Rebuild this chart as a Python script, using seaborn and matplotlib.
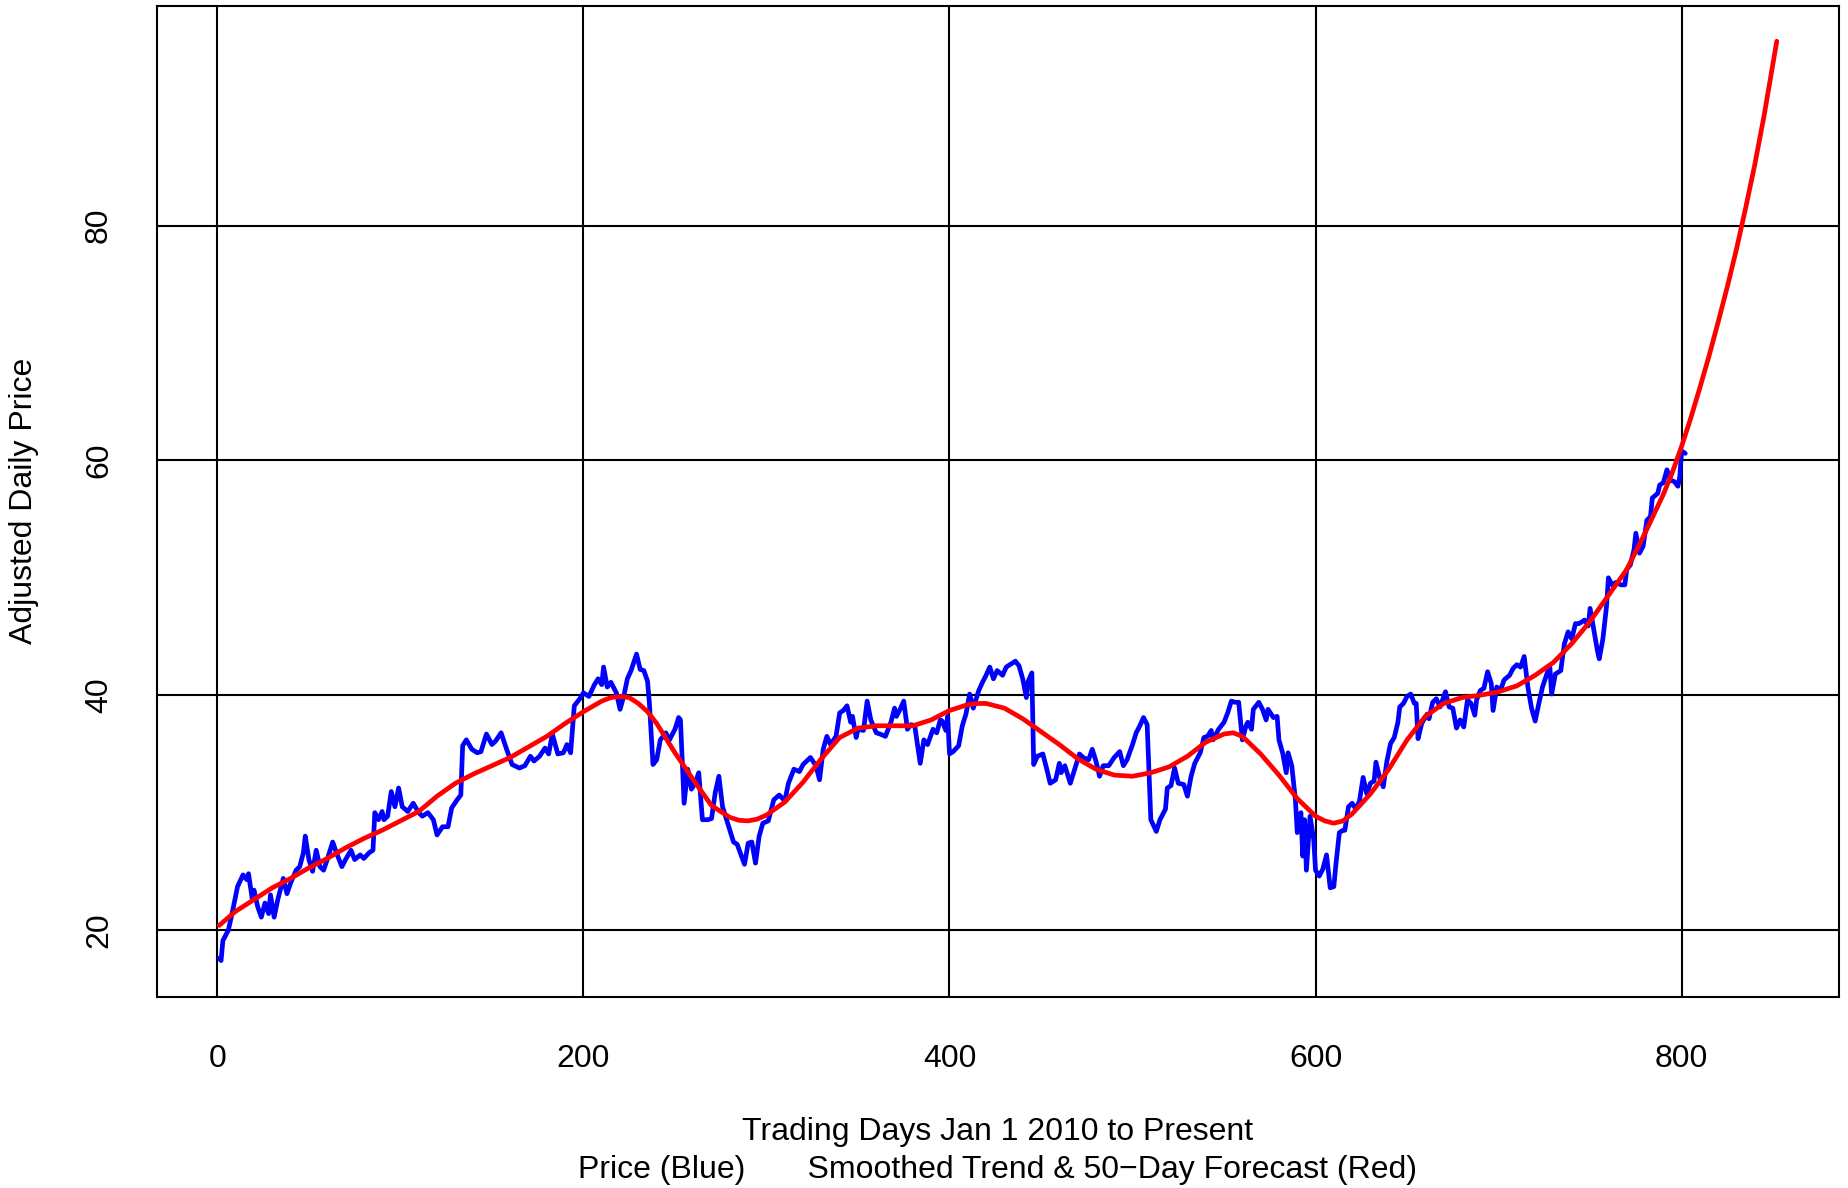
import numpy as np
import pandas as pd
import matplotlib
matplotlib.use("Agg")
import matplotlib.pyplot as plt
import seaborn as sns

# ---- Data ----
price_days = [1, 2, 3, 6, 8, 11, 14, 16, 17, 19, 20, 22, 24, 26, 28, 29, 31, 33, 36, 38,
              40, 43, 45, 47, 48, 50, 52, 54, 56, 58, 60, 63, 65, 68, 70, 73, 75, 78, 80, 83,
              85, 86, 88, 90, 91, 93, 95, 97, 99, 101, 104, 107, 110, 112, 115, 118, 120, 123, 126, 128,
              131, 133, 134, 136, 139, 142, 144, 147, 150, 152, 155, 158, 161, 165, 168, 171, 173, 176, 179, 181,
              183, 186, 189, 191, 193, 195, 198, 200, 203, 206, 208, 210, 211, 213, 215, 218, 220, 222, 224, 226,
              229, 231, 233, 235, 236, 238, 240, 242, 245, 247, 250, 252, 253, 255, 257, 259, 261, 263, 265, 268,
              270, 272, 274, 276, 279, 282, 284, 288, 290, 292, 294, 296, 298, 301, 304, 307, 310, 312, 315, 318,
              320, 324, 327, 329, 331, 333, 335, 338, 340, 342, 344, 346, 347, 349, 350, 353, 355, 357, 360, 362,
              365, 368, 370, 371, 373, 375, 377, 379, 381, 384, 386, 388, 391, 393, 395, 396, 398, 399, 400, 402,
              405, 407, 409, 411, 413, 416, 418, 420, 422, 424, 426, 429, 431, 433, 436, 438, 440, 442, 443, 445,
              446, 448, 451, 453, 455, 458, 460, 461, 463, 466, 469, 471, 473, 476, 478, 480, 482, 484, 487, 490,
              493, 495, 497, 500, 502, 504, 506, 508, 510, 513, 515, 518, 519, 521, 523, 525, 528, 530, 532, 534,
              537, 539, 541, 543, 544, 547, 550, 552, 554, 556, 558, 560, 562, 563, 565, 566, 569, 571, 573, 574,
              577, 579, 580, 582, 584, 585, 587, 589, 590, 592, 593, 594, 595, 597, 599, 600, 602, 604, 606, 608,
              610, 611, 613, 615, 616, 618, 620, 622, 624, 626, 628, 630, 632, 633, 635, 637, 639, 641, 643, 645,
              646, 648, 650, 652, 654, 655, 656, 658, 661, 662, 664, 666, 668, 671, 673, 675, 677, 679, 681, 683,
              685, 687, 688, 690, 692, 694, 696, 697, 699, 701, 703, 706, 708, 710, 712, 714, 716, 718, 720, 722,
              724, 727, 728, 729, 731, 734, 735, 736, 738, 740, 742, 744, 747, 749, 750, 752, 754, 755, 757, 759,
              760, 762, 764, 767, 769, 770, 772, 774, 775, 777, 779, 781, 783, 784, 787, 788, 790, 792, 794, 796,
              798, 799, 800, 802]
price_vals = [17.6, 17.4, 19.1, 20.0, 21.4, 23.7, 24.7, 24.3, 24.8, 22.7, 23.4, 22.0, 21.1, 22.3, 21.4, 23.0, 21.1, 22.6, 24.4, 23.1,
              24.0, 25.1, 25.4, 26.6, 28.0, 26.0, 25.0, 26.8, 25.4, 25.1, 26.0, 27.5, 26.6, 25.4, 26.0, 26.8, 26.0, 26.4, 26.1, 26.6,
              26.8, 30.0, 29.4, 30.1, 29.4, 29.7, 31.8, 30.5, 32.1, 30.5, 30.1, 30.8, 30.0, 29.7, 30.0, 29.4, 28.1, 28.8, 28.8, 30.4,
              31.1, 31.5, 35.7, 36.2, 35.4, 35.1, 35.2, 36.7, 35.8, 36.1, 36.8, 35.4, 34.1, 33.8, 34.0, 34.8, 34.4, 34.8, 35.5, 35.0,
              36.7, 35.0, 35.1, 35.8, 35.1, 39.1, 39.7, 40.2, 39.9, 40.9, 41.4, 40.9, 42.4, 40.7, 41.1, 40.2, 38.8, 39.9, 41.4, 42.1,
              43.5, 42.2, 42.1, 41.2, 39.4, 34.1, 34.5, 36.2, 36.8, 36.2, 37.1, 38.1, 37.9, 30.8, 33.7, 32.0, 32.5, 33.4, 29.4, 29.4,
              29.5, 31.7, 33.1, 30.5, 29.0, 27.5, 27.3, 25.6, 27.4, 27.5, 25.7, 28.0, 29.1, 29.3, 31.1, 31.5, 31.0, 32.5, 33.7, 33.5,
              34.1, 34.7, 34.0, 32.8, 35.4, 36.5, 35.8, 36.5, 38.5, 38.7, 39.1, 37.7, 38.2, 36.4, 37.1, 37.0, 39.5, 37.9, 36.8, 36.7,
              36.5, 37.7, 38.9, 38.2, 38.8, 39.5, 37.1, 37.5, 37.4, 34.2, 36.2, 35.8, 37.1, 36.8, 37.9, 37.8, 37.0, 38.2, 35.0, 35.2,
              35.7, 37.4, 38.4, 40.1, 38.9, 40.4, 41.1, 41.7, 42.4, 41.4, 42.1, 41.7, 42.4, 42.6, 42.9, 42.5, 41.4, 39.8, 41.2, 41.9,
              34.1, 34.8, 35.0, 33.8, 32.5, 32.8, 34.2, 33.4, 34.0, 32.5, 34.0, 35.0, 34.7, 34.5, 35.4, 34.4, 33.1, 34.0, 34.0, 34.7,
              35.2, 34.0, 34.5, 35.8, 36.8, 37.4, 38.1, 37.5, 29.4, 28.4, 29.4, 30.3, 32.1, 32.3, 33.8, 32.5, 32.4, 31.4, 33.1, 34.2,
              35.1, 36.4, 36.5, 37.0, 36.2, 37.1, 37.7, 38.5, 39.5, 39.4, 39.4, 36.2, 37.4, 37.7, 37.1, 38.8, 39.4, 38.8, 37.9, 38.8,
              38.1, 38.2, 36.2, 35.1, 33.4, 35.1, 34.0, 31.1, 28.3, 30.0, 26.3, 29.4, 25.1, 29.7, 27.7, 25.1, 24.6, 25.2, 26.4, 23.6,
              23.7, 25.4, 28.3, 28.5, 28.5, 30.5, 30.8, 30.3, 31.0, 33.0, 31.6, 32.5, 32.7, 34.3, 33.0, 32.2, 34.4, 35.9, 36.4, 37.7,
              39.0, 39.3, 39.9, 40.1, 39.3, 39.3, 36.3, 37.6, 38.4, 38.0, 39.4, 39.7, 39.0, 40.3, 39.0, 38.9, 37.2, 37.9, 37.3, 39.6,
              39.3, 38.3, 39.6, 40.4, 40.6, 42.0, 41.0, 38.7, 40.7, 40.4, 41.3, 41.7, 42.3, 42.6, 42.4, 43.3, 40.7, 38.9, 37.8, 39.3,
              40.7, 42.1, 42.4, 40.1, 41.8, 42.1, 43.3, 44.4, 45.4, 44.8, 46.1, 46.1, 46.4, 45.9, 47.4, 45.6, 43.8, 43.1, 44.8, 47.6,
              50.0, 49.4, 49.6, 49.4, 49.4, 50.7, 51.1, 52.4, 53.8, 52.1, 52.7, 54.9, 55.2, 56.8, 57.2, 57.9, 58.1, 59.2, 58.3, 58.2,
              57.8, 58.6, 60.8, 60.6]

trend_days = [1, 10, 20, 30, 40, 50, 60, 70, 80, 90, 100, 110, 120, 130, 140, 150, 160, 170, 180, 190,
              200, 210, 215, 220, 225, 230, 235, 240, 250, 260, 270, 280, 285, 290, 295, 300, 310, 320, 330, 340,
              350, 360, 370, 380, 390, 400, 410, 415, 420, 430, 440, 450, 460, 470, 480, 490, 500, 510, 520, 530,
              540, 550, 555, 560, 570, 580, 590, 600, 605, 610, 615, 620, 630, 640, 650, 660, 670, 680, 690, 700,
              710, 720, 730, 740, 750, 760, 770, 780, 790, 795, 800, 805, 810, 815, 820, 825, 830, 835, 840, 845,
              852]
trend_vals = [20.4, 21.6, 22.6, 23.6, 24.4, 25.3, 26.1, 27.0, 27.8, 28.5, 29.3, 30.1, 31.4, 32.5, 33.3, 34.0, 34.7, 35.6, 36.5, 37.6,
              38.6, 39.5, 39.8, 39.9, 39.8, 39.3, 38.6, 37.6, 35.1, 32.8, 30.6, 29.6, 29.35, 29.3, 29.45, 29.8, 30.9, 32.6, 34.6, 36.4,
              37.2, 37.4, 37.4, 37.4, 37.9, 38.7, 39.2, 39.3, 39.3, 38.9, 38.0, 36.9, 35.8, 34.6, 33.7, 33.2, 33.1, 33.4, 33.9, 34.8,
              36.0, 36.7, 36.8, 36.5, 35.0, 33.2, 31.2, 29.7, 29.3, 29.1, 29.3, 29.9, 31.6, 33.7, 36.2, 38.2, 39.3, 39.8, 40.0, 40.3,
              40.8, 41.7, 42.8, 44.4, 46.3, 48.5, 50.7, 53.8, 57.1, 59.0, 61.2, 63.6, 66.2, 68.9, 71.8, 74.8, 78.0, 81.5, 85.2, 89.3,
              95.7]

x_ticks = [0, 200, 400, 600, 800]
y_ticks = [20, 40, 60, 80]

xlabel_line1 = "Trading Days Jan 1 2010 to Present"
xlabel_line2 = "Price (Blue)       Smoothed Trend & 50\u2212Day Forecast (Red)"
ylabel = "Adjusted Daily Price"

# ---- Plot ----
sns.set_style("white")
plt.rcParams["font.family"] = ["Liberation Sans", "DejaVu Sans"]
plt.rcParams["text.color"] = "black"

W, H = 1849, 1188
fig = plt.figure(figsize=(W / 100, H / 100), dpi=100)
ax = fig.add_axes([157 / W, 1 - 997 / H, (1839 - 157) / W, (997 - 6) / H])

price_df = pd.DataFrame({"day": price_days, "price": price_vals})
trend_df = pd.DataFrame({"day": trend_days, "price": trend_vals})

sns.lineplot(data=price_df, x="day", y="price", ax=ax, color="#0000FF",
             linewidth=3.4, estimator=None, sort=False, zorder=3)
sns.lineplot(data=trend_df, x="day", y="price", ax=ax, color="#FF0000",
             linewidth=3.4, estimator=None, sort=False, zorder=4)

ax.set_xlim(-33, 886)
ax.set_ylim(14.3, 98.7)
ax.set_xticks(x_ticks)
ax.set_yticks(y_ticks)
ax.set_xticklabels([str(t) for t in x_ticks])
ax.set_yticklabels([str(t) for t in y_ticks], rotation=90, va="center")
ax.tick_params(axis="both", length=0, labelsize=23, colors="black", labelcolor="black")
ax.tick_params(axis="x", pad=34)
ax.tick_params(axis="y", pad=31)

for v in x_ticks:
    ax.axvline(v, color="black", linewidth=1.5, zorder=1)
for v in y_ticks:
    ax.axhline(v, color="black", linewidth=1.5, zorder=1)

for sp in ax.spines.values():
    sp.set_color("black")
    sp.set_linewidth(1.5)
    sp.set_visible(True)

ax.set_xlabel("")
ax.set_ylabel("")
fig.text(998 / W, 1 - 1132 / H, xlabel_line1, ha="center", va="center", fontsize=23, color="black")
fig.text(998 / W, 1 - 1170 / H, xlabel_line2, ha="center", va="center", fontsize=23, color="black")
fig.text(24 / W, 1 - 501 / H, ylabel, ha="center", va="center", rotation=90, fontsize=23, color="black")

fig.savefig("out.png", dpi=100)
